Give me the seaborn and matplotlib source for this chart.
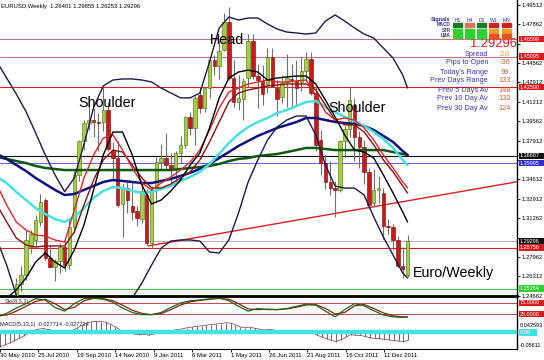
import numpy as np
import pandas as pd
import matplotlib
matplotlib.use("Agg")
import matplotlib.pyplot as plt
from matplotlib.patches import Rectangle
import seaborn as sns

# ---------------- data ----------------
date_labels = ["30 May 2010", "25 Jul 2010", "19 Sep 2010", "14 Nov 2010", "9 Jan 2011",
               "6 Mar 2011", "1 May 2011", "26 Jun 2011", "21 Aug 2011", "16 Oct 2011", "11 Dec 2011"]
date_label_weeks = [0, 8, 16, 24, 32, 40, 48, 56, 64, 72, 80]

opens = [1.2270, 1.1970, 1.2108, 1.2390, 1.2235, 1.2570, 1.2640, 1.2880, 1.2940, 1.3100,
         1.3280, 1.2790, 1.2715, 1.2760, 1.2880, 1.2730, 1.3050, 1.3500, 1.3790, 1.3940,
         1.3970, 1.3950, 1.3950, 1.4050, 1.3700, 1.3640, 1.3250, 1.3390, 1.3230, 1.3190,
         1.3120, 1.3330, 1.2920, 1.3370, 1.3610, 1.3640, 1.3580, 1.3550, 1.3690, 1.3750,
         1.3990, 1.3900, 1.4180, 1.4070, 1.4240, 1.4480, 1.4430, 1.4570, 1.4810, 1.4330,
         1.4120, 1.4150, 1.4330, 1.4640, 1.4340, 1.4300, 1.4280, 1.4510, 1.4240, 1.4165,
         1.4290, 1.4320, 1.4300, 1.4290, 1.4390, 1.4490, 1.4200, 1.3800, 1.3600, 1.3440,
         1.3390, 1.3370, 1.3790, 1.3890, 1.4100, 1.3820, 1.3740, 1.3520, 1.3260, 1.3370,
         1.3340, 1.3060, 1.3050, 1.2940, 1.2720, 1.26401]
highs = [1.2330, 1.2150, 1.2390, 1.2440, 1.2620, 1.2720, 1.3030, 1.3030, 1.3160, 1.3335,
         1.3300, 1.2900, 1.2780, 1.2920, 1.2930, 1.3130, 1.3530, 1.3800, 1.3970, 1.4160,
         1.4070, 1.4030, 1.4250, 1.4120, 1.3780, 1.3790, 1.3420, 1.3440, 1.3440, 1.3230,
         1.3420, 1.3380, 1.3400, 1.3650, 1.3760, 1.3860, 1.3690, 1.3700, 1.3830, 1.4000,
         1.4040, 1.4170, 1.4250, 1.4250, 1.4490, 1.4520, 1.4650, 1.4880, 1.4930, 1.4480,
         1.4350, 1.4330, 1.4700, 1.4700, 1.4450, 1.4440, 1.4580, 1.4580, 1.4310, 1.4350,
         1.4530, 1.4450, 1.4480, 1.4510, 1.4550, 1.4550, 1.4250, 1.3880, 1.3680, 1.3620,
         1.3450, 1.3800, 1.3920, 1.4250, 1.4160, 1.3870, 1.3800, 1.3560, 1.3550, 1.3490,
         1.3390, 1.3120, 1.3080, 1.2980, 1.2880, 1.29855]
lows = [1.1950, 1.1876, 1.2040, 1.2210, 1.2150, 1.2510, 1.2600, 1.2830, 1.2890, 1.3060,
        1.2770, 1.2700, 1.2590, 1.2660, 1.2680, 1.2690, 1.3000, 1.3450, 1.3710, 1.3880,
        1.3820, 1.3700, 1.3870, 1.3700, 1.3450, 1.3220, 1.2970, 1.3170, 1.3110, 1.3060,
        1.3090, 1.2900, 1.2870, 1.3270, 1.3540, 1.3540, 1.3430, 1.3430, 1.3600, 1.3730,
        1.3840, 1.3750, 1.4030, 1.4040, 1.4160, 1.4350, 1.4320, 1.4560, 1.4310, 1.4080,
        1.4050, 1.3970, 1.4250, 1.4320, 1.4070, 1.4100, 1.4200, 1.4250, 1.4000, 1.4110,
        1.4080, 1.4060, 1.4100, 1.4220, 1.4300, 1.4180, 1.3700, 1.3500, 1.3380, 1.3330,
        1.3140, 1.3350, 1.3650, 1.3820, 1.3620, 1.3560, 1.3420, 1.3210, 1.3220, 1.3260,
        1.2950, 1.2990, 1.2860, 1.2710, 1.2620, 1.26253]
closes = [1.1970, 1.2108, 1.2390, 1.2235, 1.2570, 1.2640, 1.2940, 1.2990, 1.3110, 1.3270,
          1.2790, 1.2710, 1.2760, 1.2880, 1.2730, 1.3050, 1.3500, 1.3790, 1.3940, 1.3970,
          1.3950, 1.3940, 1.4050, 1.3720, 1.3640, 1.3240, 1.3390, 1.3280, 1.3180, 1.3130,
          1.3360, 1.2920, 1.3370, 1.3610, 1.3640, 1.3580, 1.3550, 1.3690, 1.3750, 1.3990,
          1.3900, 1.4160, 1.4070, 1.4240, 1.4480, 1.4430, 1.4560, 1.4810, 1.4330, 1.4120,
          1.4160, 1.4300, 1.4640, 1.4340, 1.4310, 1.4190, 1.4510, 1.4260, 1.4150, 1.4284,
          1.4330, 1.4300, 1.4240, 1.4390, 1.4490, 1.4200, 1.3750, 1.3600, 1.3440, 1.3390,
          1.3370, 1.3790, 1.3890, 1.4140, 1.3820, 1.3740, 1.3520, 1.3240, 1.3370, 1.3385,
          1.3060, 1.3050, 1.2940, 1.2720, 1.2690, 1.29296]

# indicator lines sampled every two weeks (+ last week)
line_weeks = list(range(0, 85, 2)) + [85]
bb_upper = [1.4464, 1.4327, 1.4190, 1.4040, 1.3857, 1.3669, 1.3500, 1.3355, 1.3472, 1.3760,
            1.4075, 1.4259, 1.4310, 1.4319, 1.4319, 1.4310, 1.4293, 1.4241, 1.4199, 1.4157,
            1.4157, 1.4199, 1.4464, 1.4755, 1.4849, 1.4823, 1.4840, 1.4840, 1.4789, 1.4746,
            1.4720, 1.4712, 1.4703, 1.4712, 1.4814, 1.4866, 1.4814, 1.4755, 1.4703, 1.4669,
            1.4583, 1.4498, 1.4353, 1.4242]
bb_lower = [1.2942, 1.2728, 1.2472, 1.2258, 1.2173, 1.2130, 1.2130, 1.2130, 1.2173, 1.2190,
            1.2215, 1.2241, 1.2275, 1.2326, 1.2446, 1.2574, 1.2728, 1.2873, 1.2933, 1.2942,
            1.2942, 1.2933, 1.2839, 1.2831, 1.2942, 1.3173, 1.3438, 1.3626, 1.3797, 1.3908,
            1.3968, 1.4002, 1.4002, 1.3840, 1.3583, 1.3403, 1.3386, 1.3386, 1.3327, 1.3139,
            1.2967, 1.2813, 1.2660, 1.2617]
ma_black = [1.2429, 1.2446, 1.2515, 1.2617, 1.2754, 1.2831, 1.2754, 1.2703, 1.2857, 1.3070,
            1.3370, 1.3669, 1.3865, 1.3865, 1.3669, 1.3412, 1.3250, 1.3284, 1.3361, 1.3455,
            1.3583, 1.3686, 1.3900, 1.4156, 1.4327, 1.4378, 1.4395, 1.4378, 1.4310, 1.4327,
            1.4336, 1.4344, 1.4344, 1.4276, 1.4139, 1.3994, 1.3840, 1.3711, 1.3694, 1.3643,
            1.3498, 1.3344, 1.3181, 1.3096]
ma_red = [1.3412, 1.3241, 1.3096, 1.3027, 1.2985, 1.2976, 1.2942, 1.2925, 1.3198, 1.3472,
          1.3669, 1.3814, 1.3840, 1.3711, 1.3558, 1.3429, 1.3370, 1.3429, 1.3481, 1.3540,
          1.3609, 1.3711, 1.3882, 1.4071, 1.4207, 1.4241, 1.4276, 1.4293, 1.4310, 1.4293,
          1.4293, 1.4302, 1.4310, 1.4182, 1.4036, 1.3968, 1.3985, 1.3968, 1.3900, 1.3797,
          1.3669, 1.3558, 1.3438, 1.3387]
ma_darkred = [1.3241, 1.3096, 1.2959, 1.2899, 1.2882, 1.2891, 1.2891, 1.2891, 1.3010, 1.3241,
              1.3455, 1.3626, 1.3711, 1.3694, 1.3583, 1.3472, 1.3387, 1.3387, 1.3421, 1.3472,
              1.3524, 1.3626, 1.3780, 1.3951, 1.4122, 1.4199, 1.4225, 1.4241, 1.4259, 1.4267,
              1.4276, 1.4276, 1.4276, 1.4225, 1.4096, 1.3968, 1.3926, 1.3926, 1.3866, 1.3755,
              1.3626, 1.3524, 1.3404, 1.3344]
ma_cyan = [1.3481, 1.3429, 1.3352, 1.3284, 1.3215, 1.3164, 1.3121, 1.3096, 1.3139, 1.3215,
           1.3301, 1.3361, 1.3395, 1.3387, 1.3361, 1.3344, 1.3352, 1.3378, 1.3404, 1.3447,
           1.3481, 1.3524, 1.3592, 1.3678, 1.3771, 1.3848, 1.3908, 1.3951, 1.3985, 1.4028,
           1.4054, 1.4088, 1.4122, 1.4131, 1.4079, 1.4036, 1.3994, 1.3960, 1.3917, 1.3865,
           1.3806, 1.3729, 1.3626, 1.3583]
ma_navy = [1.3677, 1.3635, 1.3583, 1.3532, 1.3472, 1.3421, 1.3370, 1.3327, 1.3335, 1.3370,
           1.3404, 1.3438, 1.3455, 1.3447, 1.3438, 1.3429, 1.3429, 1.3447, 1.3464, 1.3490,
           1.3516, 1.3550, 1.3592, 1.3643, 1.3694, 1.3746, 1.3789, 1.3832, 1.3866, 1.3900,
           1.3925, 1.3951, 1.3985, 1.3985, 1.3968, 1.3951, 1.3942, 1.3934, 1.3917, 1.3883,
           1.3832, 1.3780, 1.3703, 1.3669]
ma_green = [1.3652, 1.3635, 1.3617, 1.3600, 1.3575, 1.3558, 1.3549, 1.3540, 1.3540, 1.3540,
            1.3540, 1.3540, 1.3540, 1.3540, 1.3540, 1.3540, 1.3540, 1.3540, 1.3540, 1.3549,
            1.3558, 1.3566, 1.3575, 1.3592, 1.3617, 1.3635, 1.3643, 1.3660, 1.3669, 1.3677,
            1.3694, 1.3711, 1.3729, 1.3729, 1.3720, 1.3711, 1.3711, 1.3711, 1.3711, 1.3711,
            1.3711, 1.3694, 1.3677, 1.3669]

stoch_k = [10, 28, 52, 72, 95, 88, 55, 38, 72, 95, 97, 92, 78, 52, 32, 22, 22, 32, 55, 75,
           85, 89, 94, 98, 85, 60, 38, 50, 45, 45, 50, 60, 70, 65, 38, 12, 45, 72, 62, 40,
           20, 12, 10, 11]
stoch_d = [18, 20, 38, 60, 82, 92, 72, 45, 55, 85, 96, 95, 85, 65, 42, 28, 22, 27, 45, 66,
           80, 87, 92, 96, 92, 72, 48, 45, 47, 45, 48, 56, 66, 68, 50, 25, 32, 62, 68, 50,
           30, 17, 12, 11]
stoch_levels = [75, 25]

macd = [-0.050, -0.044, -0.037, -0.029, -0.021, -0.012, -0.003, 0.006, 0.011, 0.013,
        0.010, 0.006, 0.003, 0.003, 0.002, 0.006, 0.014, 0.024, 0.032, 0.036,
        0.038, 0.037, 0.035, 0.028, 0.019, 0.008, 0.001, -0.004, -0.006, -0.008,
        -0.007, -0.010, -0.006, -0.001, 0.003, 0.005, 0.006, 0.010, 0.012, 0.016,
        0.018, 0.021, 0.022, 0.025, 0.027, 0.029, 0.030, 0.033, 0.032, 0.026,
        0.019, 0.016, 0.018, 0.014, 0.011, 0.008, 0.010, 0.008, 0.005, 0.004,
        0.005, 0.004, 0.003, 0.004, 0.006, 0.002, -0.010, -0.016, -0.022, -0.028,
        -0.032, -0.026, -0.018, -0.008, -0.010, -0.011, -0.014, -0.019, -0.021, -0.022,
        -0.024, -0.026, -0.028, -0.030, -0.032, -0.0277]
macd_range_labels = ["0.042593", "-0.05611"]

price_ticks = [1.49512, 1.47862, 1.46212, 1.44562, 1.42912, 1.41212, 1.39562, 1.37912,
               1.36262, 1.34612, 1.32912, 1.31262, 1.29612, 1.27962, 1.26312, 1.24662]
hidden_ticks = [1.46212, 1.36262, 1.29612]   # covered by level boxes in the original

hlines = {  # price: (line colour, label box colour, label text colour)
    1.46599: ("#c07888", "#d41c1c", "white"),
    1.45095: ("#c07888", "#d41c1c", "white"),
    1.42500: ("#d82020", "#d41c1c", "white"),
    1.36607: ("#101010", "#101010", "white"),
    1.35995: ("#6a6ad8", "#3030c8", "white"),
    1.29296: ("#b8b8b8", "#101010", "white"),
    1.28756: ("#d82020", "#d41c1c", "white"),
    1.25264: ("#50c050", "#30d030", "white"),
}
trend_weeks = [31.3, 107.7]
trend_prices = [1.2891, 1.3440]

info_labels = ["Spread", "Pips to Open", "Today's Range", "Prev Days Range",
               "Prev 5 Days Av", "Prev 10 Day Av", "Prev 30 Day Av"]
info_values = ["2.0", "-36", "99", "133", "148", "132", "124"]
signal_cols = ["H1", "H4", "D1", "W1", "MN"]
signal_rows = ["MACD", "STR", "LMA"]
signal_colors = [["#1f7a1f", "#e07060", "#1f7a1f", "#d42020", "#d42020"],
                 ["#30d030", "#30d030", "#30d030", "#e8a020", "#e8a020"],
                 ["#30d030", "#30d030", "#30d030", "#e85020", "#e85020"]]

# ---------------- figure ----------------
sns.set_theme(style="white")
plt.rcParams['font.family'] = ['Liberation Sans', 'DejaVu Sans']

W, H = 544, 360
fig = plt.figure(figsize=(W / 100, H / 100), dpi=100)
fig.patch.set_facecolor("white")


def rect(x0, y0, x1, y1):
    return [x0 / W, 1 - y1 / H, (x1 - x0) / W, (y1 - y0) / H]


AX_W = 517
ax = fig.add_axes(rect(0, 0, AX_W, 296))
ax_st = fig.add_axes(rect(0, 297.5, AX_W, 319.5))
ax_md = fig.add_axes(rect(0, 320, AX_W, 348.5))
XL = (0.621, 107.66)
for a in (ax, ax_st, ax_md):
    a.set_xlim(*XL)
    a.set_facecolor("white")
    for s in a.spines.values():
        s.set_visible(False)
    a.spines["right"].set_visible(True)
    a.spines["right"].set_color("black")
    a.spines["right"].set_linewidth(1.0)
    a.tick_params(axis="x", bottom=False, labelbottom=False)
    a.yaxis.tick_right()
    a.tick_params(axis="y", right=True, length=2, width=0.6, pad=1.5,
                  labelsize=4.2, colors="black")


def level_box(a, value, text, fc, box_h, x1=544, fs=4.0):
    """Coloured value box at the right edge of an axes, centred on `value`."""
    x0f = (AX_W + 2) / AX_W
    wf = (x1 - AX_W - 2) / AX_W
    a.add_patch(Rectangle((x0f, value - box_h / 2), wf, box_h,
                          transform=a.get_yaxis_transform(), clip_on=False,
                          facecolor=fc, edgecolor="none", zorder=9))
    a.text(x0f + 0.002, value, text, transform=a.get_yaxis_transform(), fontsize=fs,
           color="white", va="center", ha="left", clip_on=False, zorder=10)


ax.set_ylim(1.24632, 1.49940)
px_price = (1.49940 - 1.24632) / 296.0
ax.spines["bottom"].set_visible(True)
ax.spines["bottom"].set_color("black")
ax.spines["bottom"].set_linewidth(2.0)
ax.set_yticks(price_ticks)
ax.set_yticklabels(["" if t in hidden_ticks else f"{t:.5f}" for t in price_ticks])

# horizontal levels
for p, (lc, bc, tc) in hlines.items():
    ax.axhline(p, color=lc, lw=0.8, zorder=1)
sns.lineplot(x=trend_weeks, y=trend_prices, ax=ax, color="#d42020", lw=1.0, zorder=1)

# candles
idx = np.arange(len(opens))
o, h, l, c = map(np.array, (opens, highs, lows, closes))
up = c >= o
ax.vlines(idx, l, h, color="#707070", lw=0.8, zorder=2)
ax.bar(idx[up], (c - o)[up], bottom=o[up], width=0.72, color="#a4cf45",
       edgecolor="#4a6a10", lw=0.4, zorder=3)
ax.bar(idx[~up], (o - c)[~up], bottom=c[~up], width=0.72, color="#c81818",
       edgecolor="#6a0c0c", lw=0.4, zorder=3)

# indicator lines
line_specs = [
    (ma_green, "#0b5a12", 1.8),
    (ma_navy, "#12127a", 1.8),
    (ma_cyan, "#48e0e0", 1.8),
    (ma_darkred, "#8a1010", 1.0),
    (ma_red, "#d42a2a", 1.0),
    (ma_black, "#000000", 1.0),
    (bb_upper, "#1e1a48", 1.0),
    (bb_lower, "#1e1a48", 1.0),
]
for vals, col, lw in line_specs:
    sns.lineplot(x=line_weeks, y=vals, ax=ax, color=col, lw=lw, zorder=4)
ax.set_xlim(*XL)
ax.set_ylim(1.24632, 1.49940)
ax.set_xlabel("")
ax.set_ylabel("")

# price labels with boxes at right
for p, (lc, bc, tc) in hlines.items():
    level_box(ax, p, f"{p:.5f}", bc, 6.6 * px_price)

# chart title
ax.text(0.002, 0.985, "EURUSD,Weekly  1.26401 1.29855 1.26253 1.29296",
        transform=ax.transAxes, fontsize=4.2, color="black", va="top", ha="left")

# pattern annotations
ax.text(47.6, 1.4652, "Head", fontsize=10.3, ha="center", va="center", color="black", zorder=6)
ax.text(22.8, 1.4113, "Shoulder", fontsize=10.3, ha="center", va="center", color="black", zorder=6)
ax.text(74.5, 1.4071, "Shoulder", fontsize=10.3, ha="center", va="center", color="black", zorder=6)
ax.text(94.4, 1.2660, "Euro/Weekly", fontsize=10.3, ha="center", va="center", color="black", zorder=6)

# ---------------- stochastic ----------------
ax_st.set_ylim(0, 100)
ax_st.set_yticks([])
for lvl in stoch_levels:
    ax_st.axhline(lvl, color="#c04848", lw=0.7)
    level_box(ax_st, lvl, f"{lvl:.4f}", "#d41c1c", 6.6 * 100 / 22)
sns.lineplot(x=line_weeks, y=stoch_d, ax=ax_st, color="#8a2010", lw=0.9)
sns.lineplot(x=line_weeks, y=stoch_k, ax=ax_st, color="#1a6a1a", lw=0.9)
ax_st.set_xlim(*XL)
ax_st.set_xlabel("")
ax_st.set_ylabel("")
ax_st.text(0.01, 0.8, "Sto(8,5,3)", transform=ax_st.transAxes, fontsize=4.0, color="#303030",
           va="center", ha="left")

# ---------------- MACD ----------------
ax_md.set_ylim(-0.05611, 0.042593)
ax_md.set_yticks([])
ax_md.spines["bottom"].set_visible(True)
ax_md.spines["bottom"].set_color("black")
ax_md.spines["bottom"].set_linewidth(0.8)
ax_md.vlines(idx, 0, macd, color="#303030", lw=0.5, zorder=2)
sns.lineplot(x=idx, y=macd, ax=ax_md, color="#903030", lw=0.5, zorder=3)
ax_md.axhline(0, color="#40e4e4", lw=3.2, zorder=4)
ax_md.text(1.006, 0.82, macd_range_labels[0], transform=ax_md.transAxes, fontsize=4.0,
           color="black", va="center", ha="left", clip_on=False)
ax_md.text(1.006, 0.09, macd_range_labels[1], transform=ax_md.transAxes, fontsize=4.0,
           color="black", va="center", ha="left", clip_on=False)
level_box(ax_md, 0.0, "0.00", "#40e4e4", 7.0 * (0.042593 + 0.05611) / 28.5, x1=537)
ax_md.text(0.0, 0.83, "MACD(5,13,1) -0.027714 -0.027714", transform=ax_md.transAxes,
           fontsize=4.0, color="#202020", va="center", ha="left", zorder=6)
ax_md.set_xlim(*XL)
ax_md.set_xlabel("")
ax_md.set_ylabel("")
ax_md.set_xticks(date_label_weeks)
ax_md.set_xticklabels(date_labels)
ax_md.tick_params(axis="x", bottom=True, labelbottom=True, length=2, width=0.6,
                  labelsize=4.3, pad=1.0, colors="black")
for lbl in ax_md.get_xticklabels():
    lbl.set_ha("left")

# ---------------- info panel ----------------
def fx(x):
    return x / W


def fy(y):
    return 1 - y / H


hdr_x = [457.5, 469.5, 481.5, 493.5, 506.5]
fig.text(fx(450), fy(20), "Signals", fontsize=4.0, color="#2a2a90", ha="right", va="center",
         weight="bold")
for cx, name in zip(hdr_x, signal_cols):
    fig.text(fx(cx), fy(20), name, fontsize=3.6, color="#2a2a90", ha="center", va="center")
row_y = [25, 30.5, 35.5]
for ry, rname, cols in zip(row_y, signal_rows, signal_colors):
    fig.text(fx(451), fy(ry), rname, fontsize=3.3, color="#2a2a90", ha="right", va="center",
             weight="bold")
    for cx, col in zip(hdr_x, cols):
        fig.patches.append(Rectangle((fx(cx - 4.5), fy(ry + 2)), 9 / W, 3.8 / H,
                                     transform=fig.transFigure, color=col, zorder=5))
fig.text(fx(517), fy(44), "1.29296", fontsize=9.3, color="#e01c1c", ha="right", va="center")
for k, (lab, val) in enumerate(zip(info_labels, info_values)):
    yy = 54 + 9 * k
    fig.text(fx(488), fy(yy), lab, fontsize=5.3, color="#3a3aa8", ha="right", va="center")
    fig.text(fx(505), fy(yy), val, fontsize=5.3,
             color="#e0a020" if k == 0 else "#c8642a", ha="center", va="center")

fig.savefig("out.png", dpi=100, facecolor="white")
